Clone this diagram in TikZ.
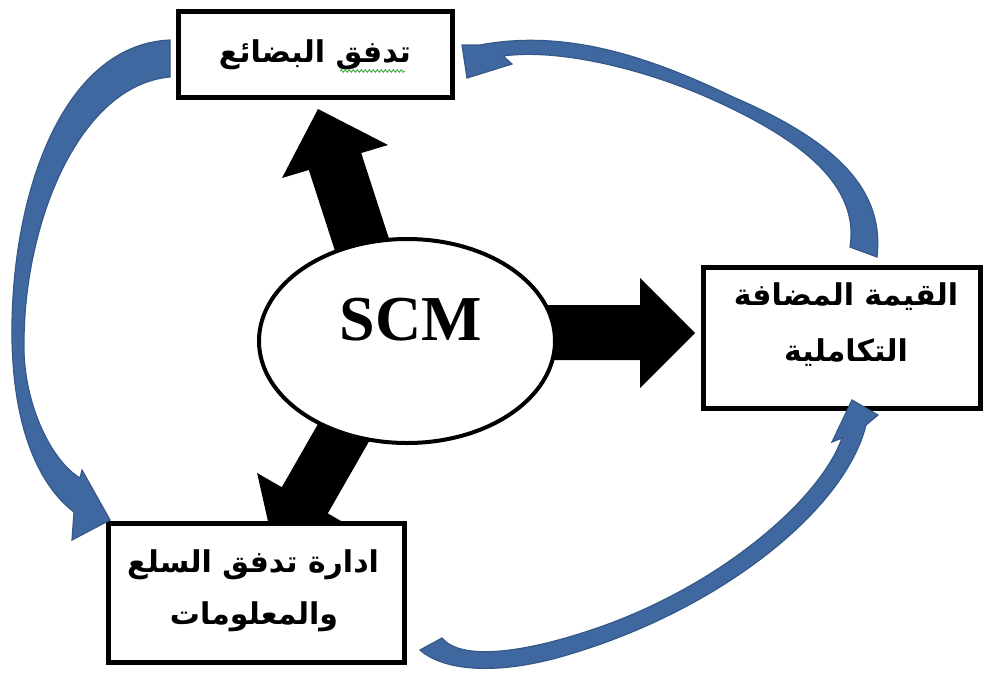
\documentclass[tikz,border=0pt]{standalone}
\usepackage{fontspec}
\setmainfont{Liberation Serif}
\newfontfamily\arabicfont[Script=Arabic]{DejaVu Sans}
\TeXXeTstate=1
\usetikzlibrary{shapes.geometric,decorations.pathmorphing}

\definecolor{flowblue}{RGB}{64,104,160}
\definecolor{flowedge}{RGB}{52,88,136}
\definecolor{spellgreen}{RGB}{60,170,60}

\tikzset{
  stagebox/.style={draw=black, line width=5pt, fill=white, inner sep=0pt},
  corebubble/.style={ellipse, draw=black, line width=4pt, fill=white, inner sep=0pt},
  blockarrow/.style={fill=black, draw=none},
  curvedflow/.style={fill=flowblue, draw=flowedge, line width=1.2pt, line join=miter},
  artext/.style={font=\arabicfont\bfseries\fontsize{30}{36}\selectfont, inner sep=0pt},
}

\begin{document}
\begin{tikzpicture}[x=1pt, y=-1pt]
  \useasboundingbox (0,0) rectangle (984,672);

  % thick black arrows radiating from the SCM bubble
  \fill[blockarrow] (395.1,257.6) -- (361.2,153) -- (388,145) -- (318,109)
        -- (282,178) -- (308.8,170) -- (342.7,274.6) -- cycle;
  \fill[blockarrow] (520,305) -- (640,305) -- (640,278) -- (695,333)
        -- (640,388) -- (640,360) -- (520,360) -- cycle;
  \fill[blockarrow] (382.9,417.1) -- (327.8,513.4) -- (352.5,527.6) -- (275,552.4)
        -- (257.1,473) -- (281.8,487.2) -- (336.9,390.9) -- cycle;

  % central bubble
  \node[corebubble, minimum width=296pt, minimum height=204pt] (scm) at (407,341) {};
  \node[font=\bfseries\fontsize{64}{64}\selectfont, inner sep=0pt] (scmlabel) at (411,320) {SCM};

  % the three stages
  \node[stagebox, minimum width=274pt, minimum height=86pt]  (goods)  at (315,54)    {};
  \node[stagebox, minimum width=277pt, minimum height=141pt] (value)  at (841.5,337.5) {};
  \node[stagebox, minimum width=296pt, minimum height=139pt] (manage) at (256,592.5) {};

  \node[artext] (goodstext) at (315,55) {\beginR تدفق البضائع\endR};
  \draw[spellgreen, line width=0.9pt, decorate,
        decoration={snake, amplitude=1.3pt, segment length=4pt}]
        (340,71) -- (405,71);

  \node[artext] (valuetop) at (846,297) {\beginR القيمة المضافة\endR};
  \node[artext] (valuebot) at (846,353) {\beginR التكاملية\endR};

  \node[artext] (managetop) at (253,565) {\beginR ادارة تدفق السلع\endR};
  \node[artext] (managebot) at (254,617) {\beginR والمعلومات\endR};

  % curved blue flow arrows around the cycle
  % value -> goods
  \filldraw[curvedflow] (850,247) -- (877,257)
        .. controls (884,195) and (845,145) .. (733,97)
        .. controls (640,52) and (560,30) .. (480,45)
        -- (462,45) -- (467,78) -- (512,64) -- (503,56)
        .. controls (560,48) and (650,70) .. (720,103)
        .. controls (800,140) and (860,185) .. cycle;
  % goods -> manage
  \filldraw[curvedflow] (170,40)
        .. controls (60,45) and (10,200) .. (12,340)
        .. controls (14,440) and (45,490) .. (74,512)
        -- (72,540) -- (110,520) -- (82,470) -- (80,478)
        .. controls (50,460) and (22,400) .. (24,340)
        .. controls (25,220) and (80,85) .. (170,77) -- cycle;
  % manage -> value
  \filldraw[curvedflow] (420,650) -- (442,638)
        .. controls (460,660) and (520,655) .. (600,627)
        .. controls (720,585) and (820,500) .. (842,438)
        -- (832,442) -- (852,400) -- (878,415) -- (866,425)
        .. controls (845,510) and (720,610) .. (567,655)
        .. controls (500,675) and (445,672) .. cycle;
\end{tikzpicture}
\end{document}
